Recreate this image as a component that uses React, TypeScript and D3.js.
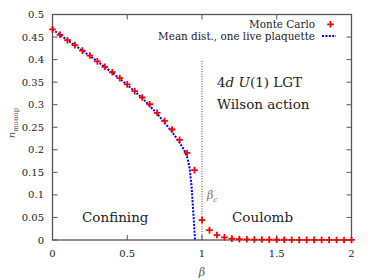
import React, { useEffect, useRef } from 'react'
import * as d3 from 'd3'

// Monte Carlo data, beta from 0 to 2 in steps of 0.05
const mcBeta = d3.range(0, 41).map(i => +(i * 0.05).toFixed(2))
const mcValues = [
	0.467, 0.455, 0.443, 0.432, 0.420, 0.409, 0.396, 0.384, 0.372, 0.359,
	0.345, 0.330, 0.316, 0.301, 0.282, 0.264, 0.245, 0.222, 0.193, 0.155,
	0.044, 0.022, 0.011, 0.006, 0.003, 0.002, 0.0015, 0.001, 0.001, 0.0008,
	0.0006, 0.0005, 0.0004, 0.0003, 0.0003, 0.0002, 0.0002, 0.0002, 0.0001, 0.0001,
	0.0001,
]

// mean distribution, one live plaquette
const mfBeta = [0, 0.1, 0.2, 0.3, 0.4, 0.5, 0.6, 0.7, 0.8, 0.85, 0.88, 0.9, 0.916, 0.93, 0.94, 0.948, 0.953]
const mfValues = [0.467, 0.443, 0.420, 0.396, 0.371, 0.344, 0.315, 0.280, 0.240, 0.216, 0.200, 0.185, 0.162, 0.12, 0.07, 0.029, 0.0]

const xTicks = [0, 0.5, 1, 1.5, 2]
const yTicks = [0, 0.05, 0.1, 0.15, 0.2, 0.25, 0.3, 0.35, 0.4, 0.45, 0.5]
const betaC = 1

const W = 374
const H = 280
const serif = 'DejaVu Serif'

const App = () => {
	const ref = useRef<SVGSVGElement>(null)

	useEffect(() => {
		const svg = d3.select(ref.current)
		svg.selectAll('*').remove()

		const left = 52.5, right = 351.5, top = 14.5, bottom = 240
		const x = d3.scaleLinear().domain([0, 2]).range([left, right])
		const y = d3.scaleLinear().domain([0, 0.5]).range([bottom, top])
		const axisColor = '#555'

		// ticks, inward on all four sides
		const tick = 5
		const g = svg.append('g')
		xTicks.forEach(t => {
			g.append('line').attr('x1', x(t)).attr('x2', x(t)).attr('y1', bottom).attr('y2', bottom - tick)
				.attr('stroke', axisColor).attr('stroke-width', 1)
			g.append('line').attr('x1', x(t)).attr('x2', x(t)).attr('y1', top).attr('y2', top + tick)
				.attr('stroke', axisColor).attr('stroke-width', 1)
			g.append('text').attr('x', x(t)).attr('y', 257).attr('text-anchor', 'middle')
				.attr('font-family', serif).attr('font-size', 10).attr('fill', '#222')
				.text(d3.format('')(t))
		})
		yTicks.forEach(t => {
			g.append('line').attr('x1', left).attr('x2', left + tick).attr('y1', y(t)).attr('y2', y(t))
				.attr('stroke', axisColor).attr('stroke-width', 1)
			g.append('line').attr('x1', right).attr('x2', right - tick).attr('y1', y(t)).attr('y2', y(t))
				.attr('stroke', axisColor).attr('stroke-width', 1)
			g.append('text').attr('x', 44).attr('y', y(t) + 3.5).attr('text-anchor', 'end')
				.attr('font-family', serif).attr('font-size', 10).attr('fill', '#222')
				.text(d3.format('')(t))
		})

		// frame
		svg.append('rect').attr('x', left).attr('y', top).attr('width', right - left).attr('height', bottom - top)
			.attr('fill', 'none').attr('stroke', axisColor).attr('stroke-width', 1.3)

		// beta_c vertical dotted line
		svg.append('line').attr('x1', x(betaC)).attr('x2', x(betaC)).attr('y1', 61).attr('y2', bottom)
			.attr('stroke', '#222').attr('stroke-width', 0.8).attr('stroke-dasharray', '1,1.5')

		// mean field line
		const line = d3.line<number>()
			.x((d, i) => x(mfBeta[i]))
			.y(d => y(d))
		svg.append('path').datum(mfValues).attr('d', line).attr('fill', 'none')
			.attr('stroke', '#0000ff').attr('stroke-width', 2).attr('stroke-dasharray', '2,1.4')

		// Monte Carlo crosses
		const plus = 'M-3.3,0H3.3M0,-3.3V3.3'
		svg.append('g').selectAll('path').data(mcValues).enter().append('path')
			.attr('transform', (d, i) => 'translate(' + x(mcBeta[i]) + ',' + y(d) + ')')
			.attr('d', plus).attr('stroke', '#ff0000').attr('stroke-width', 1.8).attr('fill', 'none')

		// legend
		const legendSize = 10.4
		svg.append('text').attr('x', 315).attr('y', 27.5).attr('text-anchor', 'end')
			.attr('font-family', serif).attr('font-size', legendSize).attr('fill', '#222').text('Monte Carlo')
		svg.append('path').attr('transform', 'translate(330.5,24.3)').attr('d', plus)
			.attr('stroke', '#ff0000').attr('stroke-width', 1.8)
		svg.append('text').attr('x', 315).attr('y', 39.5).attr('text-anchor', 'end')
			.attr('font-family', serif).attr('font-size', legendSize).attr('fill', '#222').text('Mean dist., one live plaquette')
		svg.append('line').attr('x1', 322).attr('x2', 336).attr('y1', 36).attr('y2', 36)
			.attr('stroke', '#0000ff').attr('stroke-width', 2).attr('stroke-dasharray', '2,1.4')

		// annotations
		const big = 13.5
		const t1 = svg.append('text').attr('x', 217).attr('y', 87).attr('font-family', serif)
			.attr('font-size', big).attr('fill', '#222')
		t1.append('tspan').text('4')
		t1.append('tspan').attr('font-style', 'italic').text('d ')
		t1.append('tspan').attr('font-style', 'italic').text('U')
		t1.append('tspan').text('(1) LGT')
		svg.append('text').attr('x', 217).attr('y', 108.5).attr('font-family', serif)
			.attr('font-size', big).attr('fill', '#222').text('Wilson action')
		svg.append('text').attr('x', 82).attr('y', 221.5).attr('font-family', serif)
			.attr('font-size', big).attr('fill', '#222').text('Confining')
		svg.append('text').attr('x', 232).attr('y', 221.5).attr('font-family', serif)
			.attr('font-size', big).attr('fill', '#222').text('Coulomb')

		const bc = svg.append('text').attr('x', 207).attr('y', 199).attr('font-family', serif)
			.attr('font-size', 11).attr('fill', '#777').attr('font-style', 'italic')
		bc.append('tspan').text('β')
		bc.append('tspan').attr('font-size', 7.5).attr('dy', 2.5).text('c')

		// axis labels
		svg.append('text').attr('x', 202).attr('y', 276).attr('text-anchor', 'middle').attr('font-family', serif)
			.attr('font-size', 11).attr('font-style', 'italic').attr('fill', '#555').text('β')
		const yl = svg.append('text').attr('transform', 'translate(15,123) rotate(-90)').attr('text-anchor', 'middle')
			.attr('font-family', serif).attr('font-size', 10).attr('fill', '#555')
		yl.append('tspan').attr('font-style', 'italic').text('n')
		yl.append('tspan').attr('font-size', 7).attr('dy', 2.5).text('monop')
	}, [])

	return (
		<svg
			ref={ref}
			width={W}
			height={H}
			style={{ position: 'absolute', left: 0, top: 0, background: '#fff' }}
		></svg>
	)
}

export default App
